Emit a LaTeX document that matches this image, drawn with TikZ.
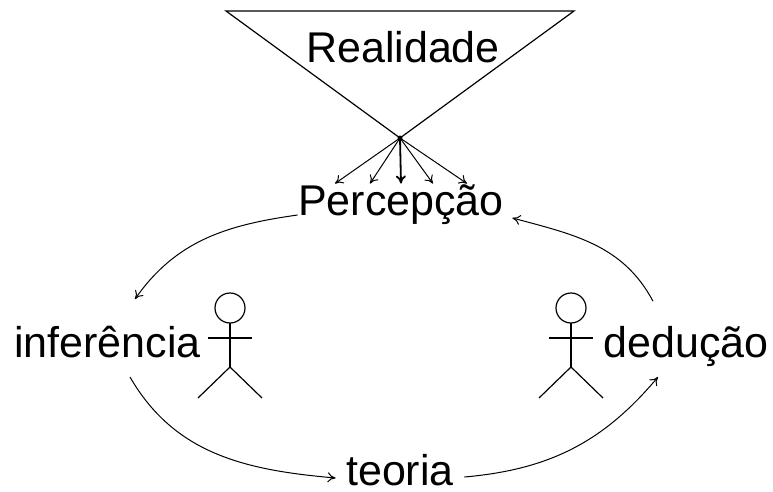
\documentclass[tikz,border=0pt]{standalone}
\usepackage{fontspec}
\setmainfont{Liberation Sans}
\usetikzlibrary{arrows.meta}

\tikzset{
    word/.style={font=\fontsize{43}{50}\selectfont, inner sep=0pt, anchor=base},
    flow/.style={line width=1pt, -{To[length=8pt, width=10pt]}}
}

\begin{document}
\begin{tikzpicture}[x=1pt, y=1pt, line width=1.2pt]
    \useasboundingbox (0, 0) rectangle (773, 491);
    \coordinate (apex) at (400, 353);
    \draw (226, 480) -- (574, 480) -- (apex) -- cycle;
    \fill (apex) circle (2.5);

    \node [word] (real) at (403, 428) {Realidade};
    \node [word] (perc) at (401, 276) {Percepção};
    \node [word] (inf) at (107.5, 134) {inferência};
    \node [word] (ded) at (686, 134) {dedução};
    \node [word] (teo) at (400, 6) {teoria};

    \foreach \d in {-66, -31, 32, 66}
        \draw [flow] (apex) -- ([xshift=\d]perc.north);
    \draw [flow, line width=1.8pt] (apex) -- (perc.north);

    \draw [flow] (perc.base west) to [out=188, in=55] ([xshift=27.5, yshift=26]inf.north);
    \draw [flow] ([xshift=22.5, yshift=-20]inf.base) to [out=-60, in=175] ([xshift=-10, yshift=7]teo.base west);
    \draw [flow] ([xshift=10, yshift=8]teo.base east) to [out=5, in=-130] ([xshift=-28, yshift=-20]ded.base);
    \draw [flow] ([xshift=-33, yshift=24]ded.north) to [out=118, in=-15] ([xshift=8, yshift=-3]perc.base east);

    \foreach \sx in {230, 571} {
        \draw (\sx, 183) circle (15);
        \draw (\sx, 168) -- (\sx, 124);
        \draw (\sx - 22, 153) -- (\sx + 22, 153);
        \draw (\sx - 32, 93) -- (\sx, 124) -- (\sx + 32, 93);
    }
\end{tikzpicture}
\end{document}
